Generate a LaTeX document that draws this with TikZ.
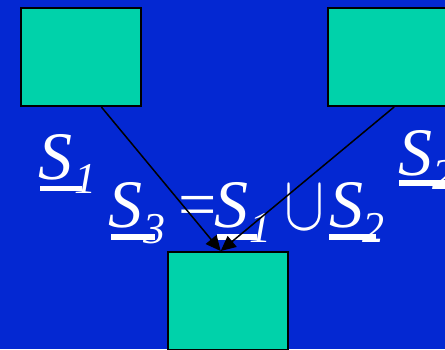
\documentclass[tikz,border=0pt]{standalone}
\usepackage{fontspec}
\setmainfont{Liberation Serif}
\usetikzlibrary{arrows.meta,calc}
\definecolor{bgblue}{RGB}{4,40,210}
\definecolor{boxteal}{RGB}{0,210,170}
\tikzset{
  sbox/.style={draw=black,line width=2pt,fill=boxteal,rectangle,minimum width=120pt,minimum height=98pt,inner sep=0pt,anchor=north west},
  conn/.style={draw=black,line width=1.5pt,-{Triangle[length=15pt,width=14pt]}},
  big/.style={text=white,inner sep=0pt,anchor=base west,font=\fontsize{68}{70}\selectfont\itshape},
  sub/.style={text=white,inner sep=0pt,anchor=base west,font=\fontsize{44}{46}\selectfont\itshape},
  op/.style={text=white,inner sep=0pt,anchor=base west,font=\fontsize{68}{70}\selectfont},
  ubar/.style={fill=white}
}
\begin{document}
\begin{tikzpicture}[x=1pt,y=-1pt]
\useasboundingbox (0,0) rectangle (445,349);
\fill[bgblue] (0,0) rectangle (445,349);
% boxes
\node[sbox] (b1) at (20,7) {};
\node[sbox] (b2) at (327,7) {};
\node[sbox] (b3) at (167,251) {};
\coordinate (s1) at ($(b1.south west)!0.667!(b1.south east)$);
\coordinate (s2) at ($(b2.south west)!0.55!(b2.south east)$);
\coordinate (t3) at ($(b3.north west)!0.44!(b3.north east)$);
% labels S1, S2
\node[big] (l1) at (38,179) {S};
\node[sub] (l1s) at (74,193) {1};
\fill[ubar] (40,186) rectangle (82,191);
\node[big] (l2) at (398,175) {S};
\node[sub] (l2s) at (432,189) {2};
\fill[ubar] (399,180) rectangle (445,186);
% equation
\node[big] (e1) at (108,227) {S};
\node[sub] (e1s) at (143,243) {3};
\fill[ubar] (111,234) rectangle (155,240);
\node[op] (eq) at (178,227) {=};
\node[big] (e2) at (214,227) {S};
\node[sub] (e2s) at (249,242) {1};
\fill[ubar] (217,234) rectangle (257,240);
\node[text=white,inner sep=0pt,anchor=base west] (cup) at (284,229) {\scalebox{6}[7.8]{$\cup$}};
\node[big] (e3) at (329,227) {S};
\node[sub] (e3s) at (362,242) {2};
\fill[ubar] (329,234) rectangle (376,240);
% connectors
\draw[conn] (s1) -- (t3);
\draw[conn] (s2) -- (t3);
\end{tikzpicture}
\end{document}
